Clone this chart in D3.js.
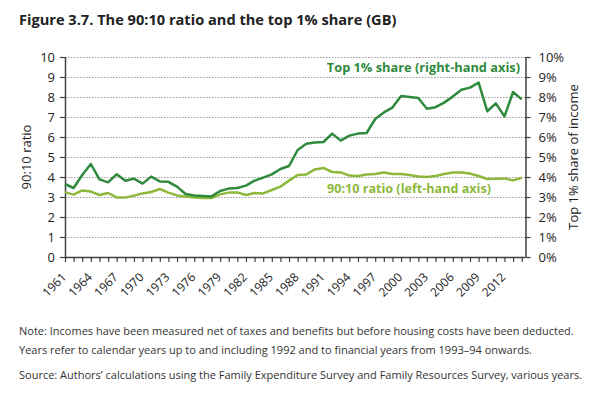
<!DOCTYPE html>
<html>
<head>
<meta charset="utf-8">
<script src="https://cdn.jsdelivr.net/npm/d3@7"></script>
<style>
  body { margin: 0; background: #fff; }
  svg { display: block; font-family: "Open Sans", "Noto Sans", sans-serif; }
</style>
</head>
<body>
<div id="chart"></div>
<script>
// data
var years = d3.range(1961, 2015);
var ratio9010 = [3.23, 3.12, 3.33, 3.27, 3.10, 3.20, 2.98, 2.97, 3.07, 3.18,
  3.25, 3.40, 3.22, 3.08, 3.02, 2.98, 2.95, 2.95, 3.13, 3.22,
  3.23, 3.10, 3.20, 3.18, 3.35, 3.52, 3.82, 4.10, 4.13, 4.38,
  4.45, 4.25, 4.23, 4.07, 4.05, 4.13, 4.15, 4.22, 4.15, 4.15,
  4.10, 4.03, 4.00, 4.05, 4.15, 4.22, 4.22, 4.17, 4.05, 3.90,
  3.91, 3.93, 3.83, 3.96];
var top1share = [3.65, 3.45, 4.10, 4.65, 3.88, 3.73, 4.14, 3.81, 3.92, 3.67,
  4.02, 3.78, 3.76, 3.52, 3.15, 3.07, 3.05, 3.03, 3.30, 3.42,
  3.45, 3.57, 3.82, 3.97, 4.13, 4.40, 4.55, 5.35, 5.66, 5.72,
  5.75, 6.17, 5.82, 6.07, 6.17, 6.20, 6.90, 7.23, 7.47, 8.05,
  8.00, 7.95, 7.41, 7.49, 7.72, 8.02, 8.36, 8.47, 8.72, 7.29,
  7.68, 7.03, 8.25, 7.88];
var leftTicks = d3.range(0, 11);
var rightTicks = d3.range(0, 11);
var labelYears = d3.range(1961, 2013, 3);

var W = 589, H = 395;
var darkGreen = "#2f8a3e", lightGreen = "#8cb83c", axisCol = "#404040";

var svg = d3.select("#chart").append("svg")
  .attr("width", W)
  .attr("height", H);

// title
svg.append("text")
  .attr("x", 19)
  .attr("y", 25)
  .attr("font-size", "14.6px")
  .attr("font-weight", "bold")
  .attr("fill", "#222")
  .text("Figure 3.7. The 90:10 ratio and the top 1% share (GB)");

var plotLeft = 65, plotRight = 525.5, plotTop = 57, plotBottom = 257;

// scales
var x = d3.scalePoint()
  .domain(years)
  .range([plotLeft, 521.7]);

var yL = d3.scaleLinear().domain([0, 10]).range([plotBottom, plotTop]);
var yR = d3.scaleLinear().domain([0, 10]).range([plotBottom, plotTop]);

// gridlines
svg.append("g")
  .selectAll("line")
  .data(leftTicks.filter(function (d) { return d > 0; }))
  .enter().append("line")
  .attr("x1", plotLeft)
  .attr("x2", plotRight)
  .attr("y1", function (d) { return yL(d) + 0.5; })
  .attr("y2", function (d) { return yL(d) + 0.5; })
  .attr("stroke", "#9a9a9a")
  .attr("stroke-width", 1)
  .attr("stroke-dasharray", "1.5,1.5");

// left axis
var yAxisL = svg.append("g")
  .attr("transform", "translate(" + plotLeft + ",0)")
  .call(d3.axisLeft(yL).tickValues(leftTicks).tickSize(5).tickPadding(5).tickFormat(d3.format("d")));

// right axis
var yAxisR = svg.append("g")
  .attr("transform", "translate(" + plotRight + ",0)")
  .call(d3.axisRight(yR).tickValues(rightTicks).tickSize(5).tickPadding(8)
    .tickFormat(function (d) { return d + "%"; }));

// x axis
var xAxis = svg.append("g")
  .attr("transform", "translate(0," + plotBottom + ")")
  .call(d3.axisBottom(x).tickSize(5).tickFormat(""));

[yAxisL, yAxisR, xAxis].forEach(function (a) {
  a.selectAll(".domain").attr("stroke", axisCol).attr("stroke-width", 1.5);
  a.selectAll(".tick line").attr("stroke", axisCol).attr("stroke-width", 1.2);
  a.selectAll(".tick text").attr("fill", "#222").attr("font-size", "13px")
    .attr("font-family", "'Open Sans', sans-serif");
});
xAxis.select(".domain").attr("d", "M" + plotLeft + ",0.5H" + plotRight);
yAxisL.select(".domain").attr("d", "M0.5," + plotBottom + "V" + plotTop);
yAxisR.select(".domain").attr("d", "M0.5," + plotBottom + "V" + plotTop);

// year labels
svg.append("g")
  .selectAll("text")
  .data(labelYears)
  .enter().append("text")
  .attr("transform", function (d) {
    return "translate(" + (x(d) + 2) + "," + (plotBottom + 21) + ") rotate(-45)";
  })
  .attr("text-anchor", "end")
  .attr("font-size", "12px")
  .attr("fill", "#222")
  .text(function (d) { return d; });

// axis titles
svg.append("text")
  .attr("transform", "translate(31," + ((plotTop + plotBottom) / 2) + ") rotate(-90)")
  .attr("text-anchor", "middle")
  .attr("font-size", "13px")
  .attr("fill", "#222")
  .text("90:10 ratio");

svg.append("text")
  .attr("transform", "translate(578," + ((plotTop + plotBottom) / 2) + ") rotate(-90)")
  .attr("text-anchor", "middle")
  .attr("font-size", "13px")
  .attr("fill", "#222")
  .text("Top 1% share of income");

// lines
var lineL = d3.line()
  .x(function (d, i) { return x(years[i]); })
  .y(function (d) { return yL(d); });
var lineR = d3.line()
  .x(function (d, i) { return x(years[i]); })
  .y(function (d) { return yR(d); });

svg.append("path")
  .datum(ratio9010)
  .attr("d", lineL)
  .attr("fill", "none")
  .attr("stroke", lightGreen)
  .attr("stroke-width", 2.5)
  .attr("stroke-linejoin", "round");

svg.append("path")
  .datum(top1share)
  .attr("d", lineR)
  .attr("fill", "none")
  .attr("stroke", darkGreen)
  .attr("stroke-width", 2.5)
  .attr("stroke-linejoin", "round");

// series labels
svg.append("text")
  .attr("x", 520)
  .attr("y", 72)
  .attr("text-anchor", "end")
  .attr("font-size", "12.8px")
  .attr("font-weight", "bold")
  .attr("fill", darkGreen)
  .text("Top 1% share (right-hand axis)");

svg.append("text")
  .attr("x", 327)
  .attr("y", 193)
  .attr("font-size", "12.6px")
  .attr("font-weight", "bold")
  .attr("fill", lightGreen)
  .text("90:10 ratio (left-hand axis)");

// notes
var notes = [
  { y: 335, t: "Note: Incomes have been measured net of taxes and benefits but before housing costs have been deducted." },
  { y: 354, t: "Years refer to calendar years up to and including 1992 and to financial years from 1993\u201394 onwards." },
  { y: 379, t: "Source: Authors\u2019 calculations using the Family Expenditure Survey and Family Resources Survey, various years." }
];
svg.append("g")
  .selectAll("text")
  .data(notes)
  .enter().append("text")
  .attr("x", 19)
  .attr("y", function (d) { return d.y; })
  .attr("font-size", "11px")
  .attr("fill", "#333")
  .text(function (d) { return d.t; });
</script>
</body>
</html>
